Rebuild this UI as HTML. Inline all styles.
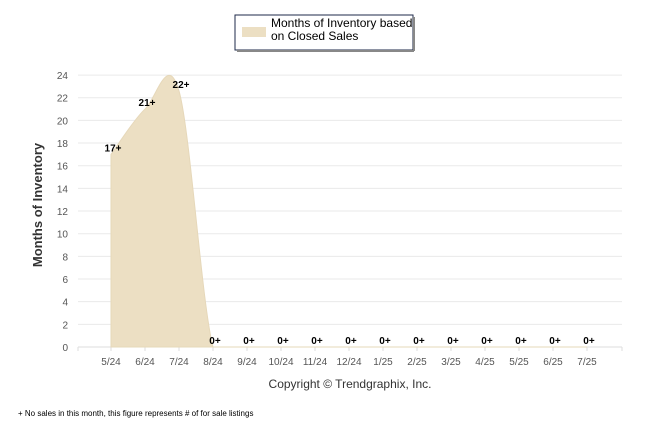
<!DOCTYPE html>
<html><head><meta charset="utf-8"><style>
body{margin:0;background:#fff;font-family:"Liberation Sans",sans-serif;}
svg{display:block}
</style></head><body>
<svg width="646" height="434" id="chart">
<g>
<rect x="235" y="15" width="178" height="35" fill="#fff" stroke="#1e2a4a" stroke-width="1"/>
<line x1="237" y1="51" x2="414" y2="51" stroke="#888" stroke-width="2"/>
<line x1="414" y1="17" x2="414" y2="51" stroke="#888" stroke-width="2"/>
<rect x="242" y="27" width="24" height="10" fill="#ecdfc3"/>
<text x="271" y="27" font-size="12" fill="#000">Months of Inventory based</text>
<text x="271" y="40" font-size="12" fill="#000">on Closed Sales</text>
</g>
<text transform="translate(42,205) rotate(-90)" text-anchor="middle" font-size="13" font-weight="bold" fill="#333">Months of Inventory</text>
<g id="grid"></g><g id="series"></g><g id="labels"></g>
<text x="350" y="388" text-anchor="middle" font-size="12" fill="#333">Copyright © Trendgraphix, Inc.</text>
<text x="18" y="416" font-size="8" fill="#000">+  No sales in this month, this figure represents # of for sale listings</text>
</svg>
<script>
const categories=["5/24","6/24","7/24","8/24","9/24","10/24","11/24","12/24","1/25","2/25","3/25","4/25","5/25","6/25","7/25"];
const values=[17,21,22.6,0,0,0,0,0,0,0,0,0,0,0,0];
const pointLabels=["17+","21+","22+","0+","0+","0+","0+","0+","0+","0+","0+","0+","0+","0+","0+"];
const yTicks=[0,2,4,6,8,10,12,14,16,18,20,22,24];
const NS="http://www.w3.org/2000/svg";
const x0=111,dx=34,yBase=347,pxPer=11.33;
function X(i){return x0+i*dx;}
function Y(v){return yBase-v*pxPer;}
function mk(t,a,p){const e=document.createElementNS(NS,t);for(const k in a)e.setAttribute(k,a[k]);p.appendChild(e);return e;}
const grid=document.getElementById('grid'),ser=document.getElementById('series'),lab=document.getElementById('labels');
yTicks.forEach(v=>{
 const l=mk('line',{x1:78,x2:622,y1:Y(v),y2:Y(v),stroke:v===0?'#ddd':'#eaeaea','stroke-width':1},grid);
 
 
 const t=mk('text',{x:68,y:Y(v)+4,'text-anchor':'end','font-size':10,fill:'#555'},grid);
 t.textContent=v;
 
 
});
categories.forEach((c,i)=>{
 mk('line',{x1:X(i),x2:X(i),y1:yBase,y2:yBase+4,stroke:'#ddd'},grid);
 const t=mk('text',{x:X(i),y:365,'text-anchor':'middle','font-size':10,fill:'#555'},grid);
 t.textContent=c;
 
 
});
mk('line',{x1:78,x2:78,y1:yBase,y2:yBase+4,stroke:'#ddd'},grid);
mk('line',{x1:622,x2:622,y1:yBase,y2:yBase+4,stroke:'#ddd'},grid);
// catmull-rom area
const pts=values.map((v,i)=>[X(i),Y(v)]);
let d=`M${pts[0][0]},${yBase} L${pts[0][0]},${pts[0][1]}`;
for(let i=0;i<pts.length-1;i++){
 const p0=pts[Math.max(0,i-1)],p1=pts[i],p2=pts[i+1],p3=pts[Math.min(pts.length-1,i+2)];
 let c1y=p1[1]+(p2[1]-p0[1])/6,c2y=p2[1]-(p3[1]-p1[1])/6;
 c1y=Math.min(c1y,yBase);c2y=Math.min(c2y,yBase);
 d+=` C${p1[0]+(p2[0]-p0[0])/6},${c1y} ${p2[0]-(p3[0]-p1[0])/6},${c2y} ${p2[0]},${p2[1]}`;
}
d+=` L${pts[pts.length-1][0]},${yBase} Z`;
const area=mk('path',{d:d,fill:'#ecdfc3',stroke:'#e6d8ba','stroke-width':1},ser);


pointLabels.forEach((s,i)=>{
 const t=mk('text',{x:X(i)+2,y:Y(values[i])-3,'text-anchor':'middle','font-size':10,'font-weight':'bold',fill:'#000'},lab);
 t.textContent=s;
 
 
});
</script>
</body></html>
